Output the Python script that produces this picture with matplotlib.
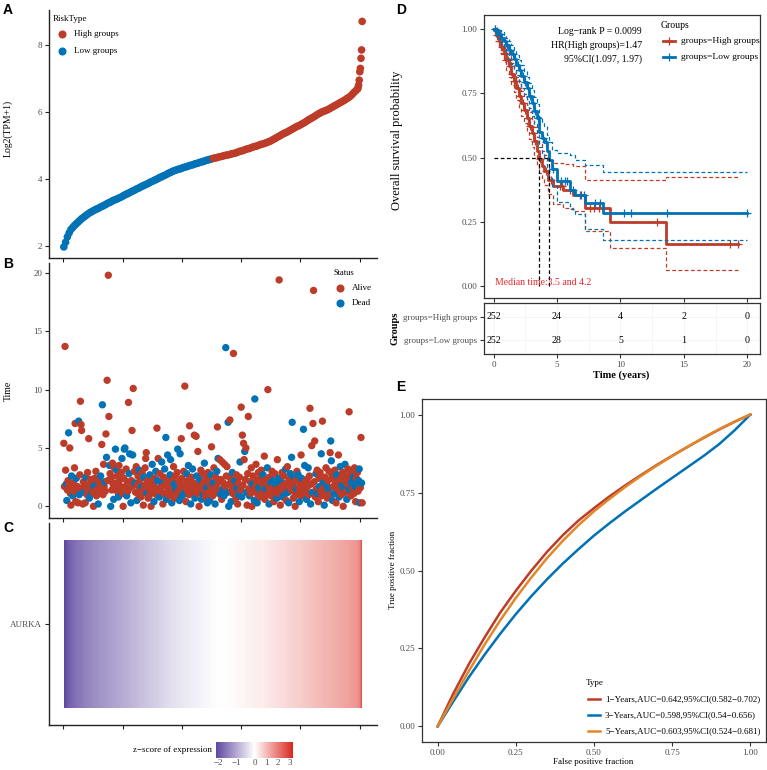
import numpy as np
import matplotlib
matplotlib.use("Agg")
import matplotlib.pyplot as plt
from matplotlib.colors import LinearSegmentedColormap, TwoSlopeNorm
from matplotlib.lines import Line2D

plt.rcParams['font.family'] = ['Liberation Serif', 'DejaVu Serif']

RED = '#BC3C29'
BLUE = '#0072B5'
ORANGE = '#E18727'
TXT = '#4D4D4D'
LINE = '#222222'

# ---------------- A: AURKA expression, samples sorted ----------------
expr_rank = np.r_[np.arange(1, 497, 3), np.arange(497, 505)]
expr_value = [
    1.98, 2.12, 2.28, 2.40, 2.50,
    2.56, 2.62, 2.67, 2.72, 2.77, 2.82, 2.86, 2.90, 2.94, 2.98,
    3.01, 3.04, 3.07, 3.10, 3.12, 3.15, 3.18, 3.20, 3.23, 3.26, 3.29, 3.31, 3.34, 3.37, 3.39,
    3.41, 3.44, 3.46, 3.49, 3.52, 3.55, 3.57, 3.60, 3.63, 3.65, 3.68, 3.71, 3.73, 3.76, 3.79,
    3.81, 3.84, 3.86, 3.89, 3.92, 3.94, 3.97, 3.99, 4.02, 4.05, 4.07, 4.10, 4.12, 4.15, 4.18, 4.20, 4.23,
    4.25, 4.27, 4.29, 4.30, 4.32, 4.34, 4.36, 4.37, 4.39, 4.41, 4.42, 4.44, 4.46, 4.47, 4.49, 4.51,
    4.52, 4.54, 4.56, 4.57, 4.59,
    4.60, 4.62, 4.63, 4.64, 4.66, 4.67, 4.68, 4.70, 4.71, 4.72, 4.73, 4.75, 4.76,
    4.77, 4.79, 4.81, 4.83, 4.84, 4.86, 4.88, 4.90, 4.91, 4.93, 4.95, 4.97, 4.98, 5.00, 5.02, 5.04,
    5.05, 5.07, 5.09,
    5.11, 5.13, 5.16, 5.19, 5.22, 5.25, 5.28, 5.31, 5.34, 5.37, 5.39, 5.42, 5.45, 5.48, 5.51, 5.54,
    5.57, 5.59, 5.62,
    5.65, 5.68, 5.71, 5.75, 5.78, 5.81, 5.84, 5.87, 5.91, 5.94, 5.97, 6.00, 6.02,
    6.04, 6.06, 6.09, 6.12, 6.15, 6.18, 6.21, 6.24, 6.27, 6.30, 6.33, 6.36, 6.40,
    6.43, 6.47, 6.52, 6.58, 6.63, 6.68,
    6.72, 6.80, 6.95, 7.20, 7.30, 7.60, 7.85, 8.70,
]
n_low = 252

# ---------------- B: follow-up time and status per sample ----------------
time_rows = [
    [5.4, 1.7, 13.7, 3.1, 1.9, 0.5, 1.4, 2.2, 6.3, 1.8, 5.0, 1.1, 0.1, 2.6, 1.6, 0.9, 2.0, 1.3, 3.3, 7.1, 0.4, 2.4, 1.2, 1.7],
    [0.3, 7.3, 1.0, 2.7, 9.0, 7.0, 6.5, 1.5, 0.2, 2.1, 1.2, 1.8, 0.3, 2.5, 1.6, 1.0, 2.9, 1.4, 5.8, 0.7, 1.9, 2.3, 1.1, 1.6],
    [2.0, 1.2, 0.0, 1.7, 2.4, 1.3, 3.0, 0.9, 1.8, 1.5, 0.2, 2.2, 1.1, 1.9, 2.6, 1.4, 5.3, 8.7, 1.0, 3.6, 1.7, 2.1, 1.3, 6.2],
    [4.2, 10.8, 2.2, 19.8, 7.7, 3.5, 2.8, 0.0, 2.5, 1.4, 3.7, 1.9, 0.6, 3.3, 2.0, 4.9, 1.6, 3.1, 2.6, 1.2, 0.8, 3.5, 1.8, 2.3],
    [1.5, 2.9, 4.1, 1.1, 0.0, 2.4, 4.9, 5.0, 1.7, 3.2, 0.9, 2.1, 1.3, 8.9, 2.8, 4.5, 1.6, 0.3, 2.2, 6.5, 4.4, 10.1, 1.8, 3.0],
    [2.0, 1.2, 3.4, 0.5, 1.9, 2.6, 1.0, 3.1, 1.5, 2.3, 0.8, 1.7, 2.9, 1.3, 0.1, 2.5, 1.8, 3.3, 4.1, 4.6, 1.1, 2.2, 0.7, 1.6],
    [0.9, 2.7, 1.4, 0.0, 2.1, 3.6, 1.2, 1.9, 0.4, 2.4, 1.6, 3.0, 1.0, 6.7, 2.2, 4.1, 1.5, 0.8, 2.8, 1.3, 2.0, 3.8, 1.7, 0.2],
    [2.5, 1.1, 3.2, 1.8, 5.9, 0.6, 2.3, 4.4, 1.4, 2.0, 0.9, 2.7, 4.0, 1.6, 0.3, 2.2, 1.2, 3.4, 1.9, 0.7, 2.6, 1.5, 1.0, 2.9],
    [4.9, 1.3, 2.1, 0.5, 4.5, 1.7, 5.8, 2.4, 0.9, 1.5, 3.0, 1.1, 10.3, 1.9, 0.4, 2.8, 1.4, 2.2, 3.5, 1.0, 6.9, 1.6, 0.2, 2.5],
    [1.8, 3.2, 1.2, 2.0, 6.1, 0.7, 1.5, 6.0, 2.6, 1.1, 4.7, 1.9, 0.0, 2.3, 1.4, 3.1, 0.6, 1.7, 2.8, 1.0, 2.1, 3.7, 1.3, 0.8],
    [2.4, 1.6, 0.3, 2.9, 1.2, 2.2, 0.5, 1.8, 2.7, 5.1, 1.4, 0.9, 2.0, 3.3, 1.1, 0.2, 2.5, 1.7, 3.0, 6.8, 4.1, 1.3, 2.1, 4.0],
    [1.0, 2.3, 0.6, 3.8, 1.5, 2.0, 0.9, 3.6, 1.7, 13.6, 2.6, 3.4, 1.2, 7.2, 0.0, 1.9, 7.4, 2.4, 0.4, 1.4, 2.9, 1.1, 13.1, 1.8],
    [2.2, 1.3, 0.7, 2.7, 1.6, 0.2, 2.0, 1.0, 2.5, 3.8, 1.4, 8.5, 0.8, 6.1, 1.8, 5.4, 4.0, 4.7, 2.3, 5.0, 1.2, 0.1, 2.8, 7.7],
    [1.5, 0.9, 2.1, 1.1, 3.3, 0.0, 1.9, 2.6, 1.3, 0.5, 9.2, 1.7, 3.6, 2.2, 0.3, 1.0, 2.9, 1.6, 2.4, 0.8, 1.4, 3.1, 2.0, 1.2],
    [2.7, 1.8, 4.3, 0.6, 1.5, 2.3, 1.0, 3.3, 10.0, 1.7, 0.2, 2.5, 1.3, 2.0, 0.9, 3.0, 1.6, 2.2, 0.4, 1.2, 2.8, 1.9, 1.4, 0.7],
    [4.0, 1.1, 2.4, 19.4, 1.6, 0.1, 2.1, 1.3, 2.9, 0.8, 1.8, 2.6, 1.0, 1.5, 3.2, 0.5, 2.0, 3.4, 1.2, 0.3, 2.3, 1.7, 2.8, 1.4],
    [4.2, 7.2, 1.9, 0.7, 2.5, 1.2, 0.0, 2.2, 1.5, 3.0, 1.0, 2.7, 1.6, 0.4, 2.0, 1.3, 4.4, 2.4, 0.9, 1.8, 6.6, 1.1, 3.5, 2.1],
    [1.4, 0.6, 2.3, 1.7, 3.3, 1.0, 2.6, 8.4, 0.2, 1.9, 5.2, 1.2, 7.1, 18.5, 2.1, 5.6, 0.8, 2.8, 1.5, 3.1, 1.1, 0.4, 2.4, 1.7],
    [2.9, 1.3, 4.5, 0.9, 7.3, 2.0, 1.6, 0.1, 2.5, 1.2, 3.3, 1.8, 0.7, 2.2, 1.4, 3.0, 1.0, 4.6, 5.6, 3.9, 2.6, 0.5, 1.7, 2.3],
    [1.1, 3.1, 1.9, 0.3, 2.7, 1.5, 2.1, 4.4, 0.8, 1.3, 3.4, 2.4, 1.0, 1.8, 2.9, 0.0, 1.6, 2.2, 3.6, 1.2, 2.6, 0.6, 1.9, 3.2],
    [2.3, 8.1, 1.4, 2.8, 0.9, 2.0, 3.0, 1.5, 2.5, 1.1, 3.3, 1.7, 0.4, 2.4, 1.9, 2.9, 1.3, 2.2, 3.2, 0.3, 1.6, 5.9, 2.0, 0.3],
]
# A = Alive, D = Dead
status_rows = [
    "AAAADDAADAAAADADAAAAADAA", "ADDAAAAAAADAADAAAAADAADA", "AAADAAAADADAAADAADAAADAA",
    "DAAAADADAAAADAADADAADAAA", "AADAAADDAADAAADDADAADAAA", "DAADAAADAAADAAADAAAADAAA",
    "ADAAADAADAADAADAADAADDAA", "AADADDADAAADDADAAADAADAA", "DAADDAAADAADAAADAADAAADA",
    "ADAAADAADAAAADAADAADADAA", "ADDAAADADAAADAADAADADAAA", "DAAADADAADAADDDAAADADAAA",
    "DAAADAADADAADAAAADAADAAA", "ADAAAADAADDAAADAADAADAAA", "DAAADAADAADAADAAADAAADAD",
    "AADAAADAADAADADAAADDAADA", "DDAADAAADAADADAAADAADADA", "ADAADAAADAADAAAAADAADAAD",
    "AADAADADAAADAADAAADDADAA", "DAAADAAADADAADAADADAADAA", "AADAADAADAADAADAADDDAADA",
]

# ---------------- D: Kaplan-Meier by group ----------------
high_t = [0.0, 0.2, 0.4, 0.6, 0.8, 1.0, 1.2, 1.4, 1.6, 1.8, 2.0, 2.2, 2.4, 2.6, 2.8, 3.0, 3.2, 3.4,
          3.55, 3.8, 4.0, 4.3, 4.7, 5.5, 6.3, 7.2, 9.2, 13.6]
high_s = [1.0, 0.978, 0.955, 0.932, 0.907, 0.882, 0.855, 0.827, 0.80, 0.77, 0.74, 0.712, 0.685, 0.655,
          0.625, 0.595, 0.565, 0.525, 0.495, 0.47, 0.45, 0.415, 0.39, 0.373, 0.356, 0.305, 0.249, 0.165]
high_hi = [1.0, 0.995, 0.98, 0.962, 0.942, 0.92, 0.895, 0.87, 0.845, 0.815, 0.787, 0.76, 0.735, 0.705,
           0.677, 0.648, 0.62, 0.58, 0.552, 0.528, 0.51, 0.49, 0.479, 0.475, 0.47, 0.415, 0.413, 0.424]
high_lo = [1.0, 0.96, 0.93, 0.902, 0.872, 0.843, 0.814, 0.783, 0.754, 0.723, 0.692, 0.663, 0.634, 0.603,
           0.573, 0.542, 0.512, 0.472, 0.442, 0.416, 0.395, 0.358, 0.32, 0.305, 0.295, 0.215, 0.149, 0.062]
high_end = 19.3
high_cens = [0.1, 0.25, 0.4, 0.55, 0.7, 0.85, 1.0, 1.15, 1.3, 1.45, 1.6, 1.75, 1.9, 2.1, 2.3, 2.5, 2.7,
             2.9, 3.1, 3.3, 3.7, 4.1, 4.5, 5.2, 5.4, 6.0, 6.8, 7.6, 7.9, 8.3, 12.9, 18.6, 19.3]

low_t = [0.0, 0.2, 0.4, 0.6, 0.8, 1.0, 1.2, 1.4, 1.6, 1.8, 2.0, 2.2, 2.4, 2.6, 2.8, 3.0, 3.2, 3.4, 3.6,
         3.8, 4.0, 4.2, 4.4, 4.6, 5.0, 6.05, 6.45, 7.2, 8.65]
low_s = [1.0, 0.992, 0.98, 0.967, 0.953, 0.937, 0.92, 0.902, 0.883, 0.862, 0.84, 0.818, 0.795, 0.77,
         0.742, 0.713, 0.683, 0.655, 0.60, 0.577, 0.56, 0.525, 0.49, 0.455, 0.408, 0.376, 0.356, 0.324, 0.285]
low_hi = [1.0, 1.0, 0.995, 0.988, 0.978, 0.966, 0.952, 0.937, 0.92, 0.90, 0.88, 0.86, 0.838, 0.815,
          0.79, 0.762, 0.735, 0.71, 0.66, 0.64, 0.625, 0.59, 0.56, 0.53, 0.52, 0.51, 0.49, 0.473, 0.443]
low_lo = [1.0, 0.975, 0.96, 0.942, 0.924, 0.905, 0.885, 0.864, 0.843, 0.82, 0.797, 0.773, 0.748, 0.722,
          0.692, 0.662, 0.63, 0.60, 0.54, 0.516, 0.498, 0.46, 0.425, 0.39, 0.33, 0.30, 0.28, 0.225, 0.18]
low_end = 20.0
low_cens = [0.1, 0.3, 0.5, 0.7, 0.9, 1.1, 1.3, 1.5, 1.7, 1.9, 2.1, 2.3, 2.5, 2.7, 2.9, 3.1, 3.3, 3.5,
            3.9, 4.1, 4.7, 5.3, 5.6, 5.8, 6.3, 6.9, 7.1, 8.0, 8.4, 10.3, 10.8, 13.7, 20.0]

median_times = [3.55, 4.4]
risk_times = [0, 5, 10, 15, 20]
risk_high = [252, 24, 4, 2, 0]
risk_low = [252, 28, 5, 1, 0]

# ---------------- E: time-dependent ROC ----------------
roc_fpr = [0, .05, .1, .15, .2, .25, .3, .35, .4, .45, .5, .55, .6, .65, .7, .75, .8, .85, .9, .95, 1.0]
roc_1y = [0, .105, .20, .285, .365, .435, .50, .56, .613, .66, .70, .738, .773, .806, .838, .868, .897,
          .925, .952, .977, 1.0]
roc_3y = [0, .08, .158, .23, .297, .36, .418, .472, .522, .568, .612, .652, .69, .726, .762, .797,
          .832, .867, .905, .95, 1.0]
roc_5y = [0, .09, .178, .262, .34, .412, .478, .54, .595, .645, .69, .73, .768, .803, .836, .867,
          .897, .926, .953, .978, 1.0]
roc_labels = ['1\u2212Years,AUC=0.642,95%CI(0.582\u22120.702)',
              '3\u2212Years,AUC=0.598,95%CI(0.54\u22120.656)',
              '5\u2212Years,AUC=0.603,95%CI(0.524\u22120.681)']

# colour scale limits of the z-score legend
z_limits = (-2.1, 3.25)

# ================= figure =================
W, H = 767, 770
fig = plt.figure(figsize=(W / 100, H / 100), dpi=100)


def box(l, t, r, b):
    return fig.add_axes([l / W, 1 - b / H, (r - l) / W, (b - t) / H])


def ftext(x, y, s, **kw):
    fig.text(x / W, 1 - y / H, s, **kw)


def fline(xs, ys, **kw):
    fig.add_artist(Line2D([x / W for x in xs], [1 - y / H for y in ys],
                          transform=fig.transFigure, **kw))


def classic(ax):
    for s in ['top', 'right']:
        ax.spines[s].set_visible(False)
    for s in ['left', 'bottom']:
        ax.spines[s].set_linewidth(1.0)
        ax.spines[s].set_color(LINE)
    ax.tick_params(length=3, width=0.8, color=LINE, labelcolor=TXT, labelsize=6.5, pad=2)


def boxed(ax):
    for s in ax.spines.values():
        s.set_linewidth(0.9)
        s.set_color('#333333')
    ax.tick_params(length=3, width=0.8, color='#333333', labelcolor=TXT, labelsize=6.5, pad=2)


rank_ticks = [0, 100, 200, 300, 400, 500]
xlim_rank = (-24, 529)

# ---- A ----
axA = box(49, 10, 377, 258)
ev = np.array(expr_value)
colA = np.where(expr_rank <= n_low, BLUE, RED)
axA.scatter(expr_rank, ev, c=colA, s=30, linewidths=0)
axA.set_xlim(*xlim_rank)
axA.set_ylim(1.65, 9.04)
axA.set_yticks([2, 4, 6, 8])
axA.set_xticks(rank_ticks)
axA.set_xticklabels([])
classic(axA)
ftext(8, 128, 'Log2(TPM+1)', rotation=90, ha='center', va='center', fontsize=7)
ftext(53, 19, 'RiskType', fontsize=6.5, va='center')
fline([62], [34], marker='o', ms=4.8, color=RED, ls='none')
fline([62], [51], marker='o', ms=4.8, color=BLUE, ls='none')
ftext(74, 34, 'High groups', fontsize=6.5, va='center')
ftext(74, 51, 'Low groups', fontsize=6.5, va='center')

# ---- B ----
axB = box(49, 263, 377, 518)
times = np.concatenate([np.array(r, dtype=float) for r in time_rows])
status = ''.join(status_rows)
rank_b = np.arange(1, len(times) + 1)
colB = [RED if c == 'A' else BLUE for c in status[:len(times)]]
axB.scatter(rank_b, times, c=colB, s=28, linewidths=0)
axB.set_xlim(*xlim_rank)
axB.set_ylim(-1.0, 20.85)
axB.set_yticks([0, 5, 10, 15, 20])
axB.set_xticks(rank_ticks)
axB.set_xticklabels([])
classic(axB)
ftext(8, 391, 'Time', rotation=90, ha='center', va='center', fontsize=7)
ftext(333, 273, 'Status', fontsize=6, va='center')
fline([340], [288], marker='o', ms=4.8, color=RED, ls='none')
fline([340], [303], marker='o', ms=4.8, color=BLUE, ls='none')
ftext(352, 288, 'Alive', fontsize=6.5, va='center')
ftext(352, 303, 'Dead', fontsize=6.5, va='center')

# ---- C ----
axC = box(49, 523, 377, 725)
z = (ev - ev.mean()) / ev.std(ddof=1)
edges = np.r_[0.5, (expr_rank[:-1] + expr_rank[1:]) / 2, 504.5]
cmap = LinearSegmentedColormap.from_list('pwr', ['#5E479E', '#FFFFFF', '#D9271E'])
norm = TwoSlopeNorm(vmin=z_limits[0], vcenter=0, vmax=z_limits[1])
mesh = axC.pcolormesh(edges, [-0.5, 0.5], z[None, :], cmap=cmap, norm=norm, shading='flat')
axC.set_xlim(*xlim_rank)
axC.set_ylim(-0.6, 0.6)
axC.set_yticks([0])
axC.set_yticklabels(['AURKA'])
axC.set_xticks(rank_ticks)
axC.set_xticklabels([])
classic(axC)
cax = box(216, 742, 293, 758)
cb = fig.colorbar(mesh, cax=cax, orientation='horizontal', ticks=[-2, -1, 0, 1, 2, 3])
cb.outline.set_visible(False)
cax.tick_params(length=0, labelsize=6.5, labelcolor=TXT, pad=1)
ftext(212, 750, 'z\u2212score of expression', ha='right', va='center', fontsize=6.5)

# ---- D: KM ----
axD = box(484, 15, 760, 298)
dash = (0, (3, 2))
for t, s, hi, lo, end, cens, col in [
        (high_t, high_s, high_hi, high_lo, high_end, high_cens, RED),
        (low_t, low_s, low_hi, low_lo, low_end, low_cens, BLUE)]:
    tx = np.r_[t, end]
    for yy, lw, ls in [(hi, 0.9, dash), (lo, 0.9, dash), (s, 2.0, '-')]:
        axD.step(tx, np.r_[yy, yy[-1]], where='post', color=col, lw=lw, ls=ls)
    idx = np.searchsorted(t, cens, side='right') - 1
    axD.plot(cens, np.array(s)[idx], ls='none', marker='+', ms=6, mew=0.9, color=col)
axD.plot([0, median_times[1]], [0.5, 0.5], color='black', lw=0.9, ls=dash)
for m in median_times:
    axD.plot([m, m], [0, 0.5], color='black', lw=0.9, ls=dash)
axD.text(0.1, 0.015, 'Median time:3.5 and 4.2', color='#E8262B', fontsize=7, va='center')
axD.set_xlim(-0.75, 21)
axD.set_ylim(-0.045, 1.055)
axD.set_yticks([0, 0.25, 0.5, 0.75, 1.0])
axD.set_yticklabels(['0.00', '0.25', '0.50', '0.75', '1.00'])
axD.set_xticks(risk_times)
axD.set_xticklabels([])
axD.tick_params(axis='x', length=0)
boxed(axD)
ftext(397, 140, 'Overall survival probability', rotation=90, ha='center', va='center', fontsize=9)
ftext(642, 31, 'Log\u2212rank P = 0.0099', ha='right', va='center', fontsize=7)
ftext(642, 45, 'HR(High groups)=1.47', ha='right', va='center', fontsize=7)
ftext(642, 59, '95%CI(1.097, 1.97)', ha='right', va='center', fontsize=7)
ftext(661, 25, 'Groups', fontsize=7, va='center')
for y, col, lab in [(41, RED, 'groups=High groups'), (57, BLUE, 'groups=Low groups')]:
    fline([663, 675], [y, y], color=col, lw=2.0)
    fline([669], [y], marker='+', ms=6, mew=0.9, color=col, ls='none')
    ftext(681, y, lab, fontsize=6.8, va='center')

# risk table
axT = box(484, 303, 760, 354)
axT.set_xlim(-0.75, 21)
axT.set_ylim(0.4, 2.6)
axT.set_xticks(risk_times)
axT.set_xticks([2.5, 7.5, 12.5, 17.5], minor=True)
axT.set_yticks([1, 2])
axT.set_yticklabels(['groups=Low groups', 'groups=High groups'])
axT.grid(True, which='both', color='#F2F2F2', lw=0.5, zorder=0)
axT.set_axisbelow(True)
for x, nh, nl in zip(risk_times, risk_high, risk_low):
    axT.text(x, 2, str(nh), ha='center', va='center', fontsize=7.2, zorder=3)
    axT.text(x, 1, str(nl), ha='center', va='center', fontsize=7.2, zorder=3)
boxed(axT)
axT.tick_params(which='minor', length=0)
ftext(395, 328, 'Groups', rotation=90, ha='center', va='center', fontsize=7.5, fontweight='bold')
ftext(621, 375, 'Time (years)', ha='center', va='center', fontsize=7.5, fontweight='bold')

# ---- E: ROC ----
axE = box(422, 399, 766, 742)
for yv, col in [(roc_1y, RED), (roc_3y, BLUE), (roc_5y, ORANGE)]:
    axE.plot(roc_fpr, yv, color=col, lw=1.8)
axE.set_xlim(-0.05, 1.05)
axE.set_ylim(-0.05, 1.05)
ticks = [0, 0.25, 0.5, 0.75, 1.0]
tlab = ['0.00', '0.25', '0.50', '0.75', '1.00']
axE.set_xticks(ticks)
axE.set_xticklabels(tlab)
axE.set_yticks(ticks)
axE.set_yticklabels(tlab)
boxed(axE)
ftext(393, 570, 'True positive fraction', rotation=90, ha='center', va='center', fontsize=6.5)
ftext(593, 762, 'False positive fraction', ha='center', va='center', fontsize=6.5)
ftext(586, 683, 'Type', fontsize=6.5, va='center')
for y, col, lab in zip([699, 715, 731], [RED, BLUE, ORANGE], roc_labels):
    fline([588, 600], [y, y], color=col, lw=1.8)
    ftext(605, y, lab, fontsize=6.5, va='center')

# panel letters
for x, y, s in [(3, 3, 'A'), (3, 257, 'B'), (3, 521, 'C'), (396, 3, 'D'), (396, 380, 'E')]:
    fig.text(x / W, 1 - y / H, s, family='Liberation Sans', fontweight='bold', fontsize=10,
             ha='left', va='top')

fig.savefig('out.png', dpi=100)
